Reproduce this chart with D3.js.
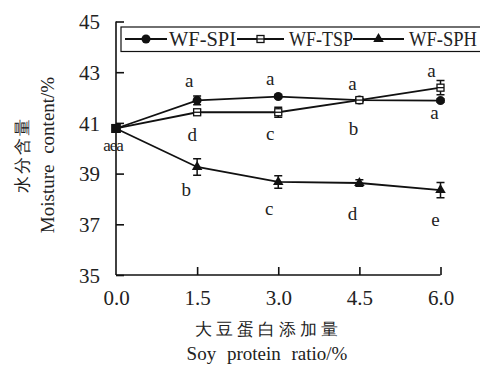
<!DOCTYPE html>
<html>
<head>
<meta charset="utf-8">
<script src="https://cdn.jsdelivr.net/npm/d3@7"></script>
<style>
  body { margin: 0; background: #fff; }
</style>
</head>
<body>
<svg id="chart" width="480" height="365"></svg>
<script>
  // x categories (soy protein ratio, %)
  var RATIOS = [0.0, 1.5, 3.0, 4.5, 6.0];
  var X_TICKS = ["0.0", "1.5", "3.0", "4.5", "6.0"];
  var Y_TICKS = [35, 37, 39, 41, 43, 45];

  // moisture content, %
  var SPI = [40.78, 41.89, 42.04, 41.90, 41.88];
  var SPI_ERR = [0.05, 0.17, 0.06, 0.06, 0.07];
  var TSP = [40.78, 41.42, 41.42, 41.90, 42.39];
  var TSP_ERR = [0.05, 0.1, 0.2, 0.06, 0.28];
  var SPH = [40.78, 39.26, 38.67, 38.63, 38.35];
  var SPH_ERR = [0.05, 0.33, 0.25, 0.13, 0.3];

  // significance letters
  var SPI_LETTERS = ["", "a", "a", "a", "a"];
  var TSP_LETTERS = ["", "d", "c", "b", "a"];
  var SPH_LETTERS = ["", "b", "c", "d", "e"];

  var svg = d3.select("#chart").attr("font-family", "'Liberation Serif'");
  var x = d3.scaleLinear().domain([0, 6]).range([116, 440.5]);
  var y = d3.scaleLinear().domain([35, 45]).range([275, 21.5]);

  // axes (inherit the serif font from the svg)
  var yAxis = d3.axisLeft(y).tickValues(Y_TICKS).tickSize(-8).tickPadding(16);
  var gy = svg.append("g").attr("transform", "translate(" + x(0) + ",0)").call(yAxis);
  gy.attr("font-family", null).attr("font-size", null);
  gy.select(".domain").attr("d", "M0," + y(45) + "V" + y(35));
  gy.selectAll("text").style("font-size", "21px").attr("dy", "0.35em").attr("x", -16);

  var xAxis = d3.axisBottom(x).tickValues(RATIOS).tickSize(-8).tickPadding(14)
    .tickFormat(function (d, i) { return X_TICKS[i]; });
  var gx = svg.append("g").attr("transform", "translate(0," + y(35) + ")").call(xAxis);
  gx.attr("font-family", null).attr("font-size", null);
  gx.select(".domain").attr("d", "M" + x(0) + ",0H" + x(6));
  gx.selectAll("text").style("font-size", "21px").attr("dy", "0.75em");
  gx.selectAll(".tick line").filter(function (d) { return d === 0; }).remove();

  svg.selectAll(".domain, .tick line").attr("stroke", "#111").attr("stroke-width", 1.6);

  // series
  var series = [
    { name: "WF-SPI", vals: SPI, err: SPI_ERR, shape: "circle" },
    { name: "WF-TSP", vals: TSP, err: TSP_ERR, shape: "square" },
    { name: "WF-SPH", vals: SPH, err: SPH_ERR, shape: "triangle" }
  ];

  var line = d3.line()
    .x(function (d, i) { return x(RATIOS[i]); })
    .y(function (d) { return y(d); });

  function marker(g, shape) {
    if (shape === "circle") {
      g.append("circle").attr("r", 4.5).attr("fill", "#111");
    } else if (shape === "square") {
      g.append("rect").attr("x", -3.5).attr("y", -3.5).attr("width", 7).attr("height", 7)
        .attr("fill", "#fff").attr("stroke", "#111").attr("stroke-width", 1.3);
      g.append("line").attr("x1", -3.5).attr("x2", 3.5).attr("stroke", "#111").attr("stroke-width", 1.3);
    } else {
      g.append("path").attr("d", d3.symbol().type(d3.symbolTriangle).size(48)())
        .attr("fill", "#111");
    }
  }

  series.forEach(function (s) {
    var g = svg.append("g");
    g.append("path").datum(s.vals).attr("d", line)
      .attr("fill", "none").attr("stroke", "#111").attr("stroke-width", 1.8);
    s.vals.forEach(function (v, i) {
      var cx = x(RATIOS[i]);
      var y0 = y(v + s.err[i]), y1 = y(v - s.err[i]);
      g.append("path")
        .attr("d", "M" + cx + "," + y0 + "V" + y1 +
          "M" + (cx - 4) + "," + y0 + "H" + (cx + 4) +
          "M" + (cx - 4) + "," + y1 + "H" + (cx + 4))
        .attr("stroke", "#111").attr("stroke-width", 1.5).attr("fill", "none");
      var m = g.append("g").attr("transform", "translate(" + cx + "," + y(v) + ")");
      if (i === 0) {
        m.append("rect").attr("x", -4.5).attr("y", -4.5).attr("width", 9).attr("height", 9).attr("fill", "#111");
      } else {
        marker(m, s.shape);
      }
    });
  });

  // significance letters
  function letters(arr, dx, dy, ref) {
    arr.forEach(function (t, i) {
      if (!t) return;
      svg.append("text")
        .attr("x", x(RATIOS[i]) + dx[i])
        .attr("y", y(ref[i]) + dy[i])
        .attr("text-anchor", "middle")
        .style("font-size", "19px")
        .text(t);
    });
  }
  letters(SPI_LETTERS, [0, -8, -8, -7, -9], [0, -13, -12, -10, -24], SPI);
  letters(TSP_LETTERS, [0, -5, -8, -6, -6], [0, 29, 28, 35, 31], TSP);
  letters(SPH_LETTERS, [0, -11, -9, -7, -5], [0, 29, 33, 37, 36], SPH);
  svg.append("text").attr("x", x(0) - 3).attr("y", y(SPI[0]) + 23)
    .attr("text-anchor", "middle").style("font-size", "17px").style("letter-spacing", "-1px").text("aea");

  // legend
  var lg = svg.append("g");
  lg.append("rect").attr("x", 121).attr("y", 27).attr("width", 370).attr("height", 24.5)
    .attr("fill", "#fff").attr("stroke", "#111").attr("stroke-width", 1.2);
  var legendItems = [
    { x0: 125, x1: 167, tx: 169, w: 67, s: series[0] },
    { x0: 237, x1: 284, tx: 289, w: 64, s: series[1] },
    { x0: 353, x1: 404, tx: 409, w: 68, s: series[2] }
  ];
  legendItems.forEach(function (it) {
    lg.append("line").attr("x1", it.x0).attr("x2", it.x1).attr("y1", 39).attr("y2", 39)
      .attr("stroke", "#111").attr("stroke-width", 1.8);
    var m = lg.append("g").attr("transform", "translate(" + ((it.x0 + it.x1) / 2) + ",39)");
    marker(m, it.s.shape);
    lg.append("text").attr("x", it.tx).attr("y", 46).style("font-size", "20px")
      .attr("textLength", it.w).attr("lengthAdjust", "spacingAndGlyphs")
      .text(it.s.name);
  });

  // axis titles
  svg.append("text")
    .attr("transform", "translate(28,155) rotate(-90)")
    .attr("text-anchor", "middle").style("font-size", "17px").style("letter-spacing", "2px")
    .text("水分含量");
  svg.append("text")
    .attr("transform", "translate(54,155) rotate(-90)")
    .attr("text-anchor", "middle").style("font-size", "19px").style("word-spacing", "6px")
    .text("Moisture content/%");
  svg.append("text")
    .attr("x", 268).attr("y", 335)
    .attr("text-anchor", "middle").style("font-size", "17px").style("letter-spacing", "4px")
    .text("大豆蛋白添加量");
  svg.append("text")
    .attr("x", 267).attr("y", 360)
    .attr("text-anchor", "middle").style("font-size", "19px").style("word-spacing", "6px")
    .text("Soy protein ratio/%");

  svg.selectAll("text").attr("fill", "#222");
</script>
</body>
</html>
